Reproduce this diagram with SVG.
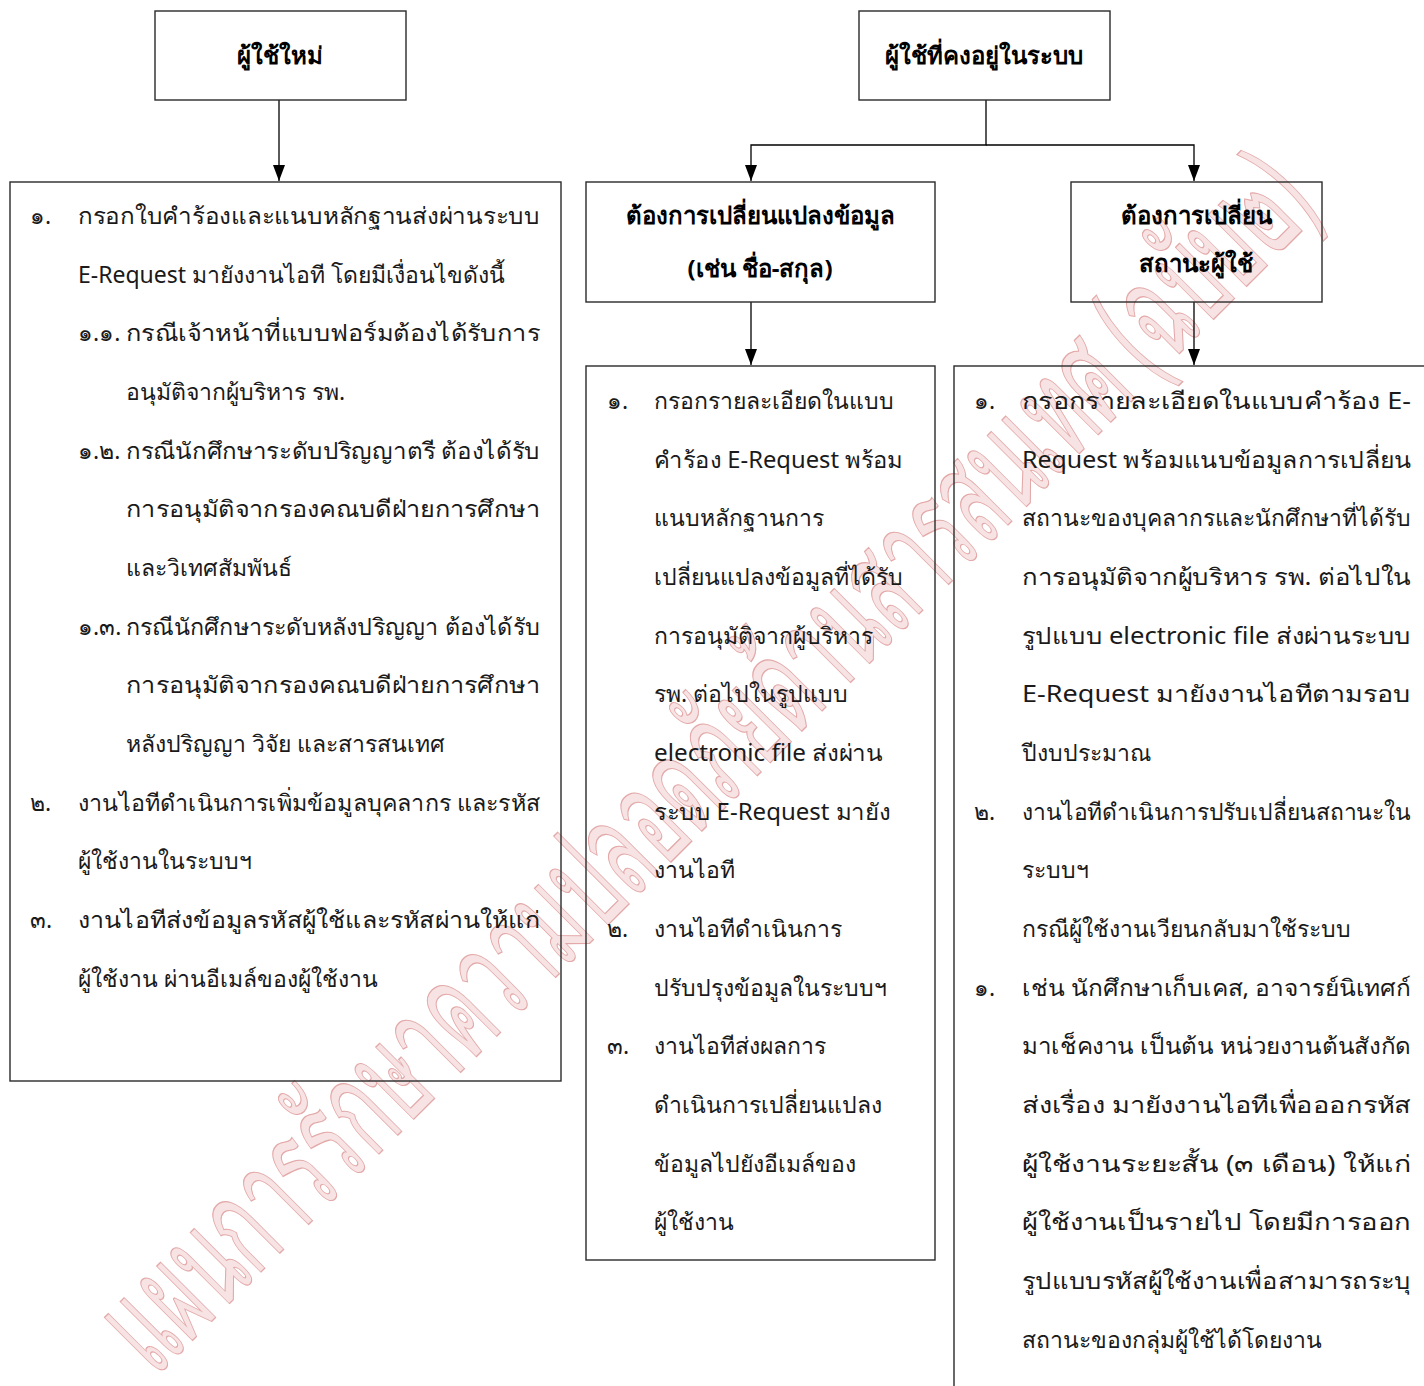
<svg xmlns="http://www.w3.org/2000/svg" width="1424" height="1386" viewBox="0 0 1424 1386">
<defs>
<marker id="ah" viewBox="0 0 16 12" refX="16" refY="6" markerWidth="16" markerHeight="12" markerUnits="userSpaceOnUse" orient="auto" preserveAspectRatio="none">
<path d="M0,0 L16,6 L0,12 z" fill="#000"/>
</marker>
<style>
.box{fill:none;stroke:#2a2a2a;stroke-width:1.4}
.hd{font-family:"Noto Sans",sans-serif;font-weight:bold;font-size:24px;fill:#000;text-anchor:middle}
.t{font-family:"Noto Sans",sans-serif;font-size:23px;fill:#1a1a1a}
.ln{fill:none;stroke:#000;stroke-width:1.3}
.wm{font-family:"Noto Sans",sans-serif;font-size:140px;fill:#f7e3e3;stroke:#e3a8a8;stroke-width:1.3}
</style>
</defs>
<rect width="1424" height="1386" fill="#fff"/>
<g id="watermark">
<text class="wm" transform="translate(155,1378) rotate(-45)" x="0" y="0" textLength="1650" lengthAdjust="spacingAndGlyphs">แผนการรักษาความปลอดภัยด้านสารสนเทศ (ฉบับ๒)</text>
</g>
<g id="connectors">
<path class="ln" d="M279,100 V181" marker-end="url(#ah)"/>
<path class="ln" d="M986,100 V145 H751 V181" marker-end="url(#ah)"/>
<path class="ln" d="M986,145 H1194 V181" marker-end="url(#ah)"/>
<path class="ln" d="M751,302 V365" marker-end="url(#ah)"/>
<path class="ln" d="M1194,302 V365" marker-end="url(#ah)"/>
</g>
<g id="n-new-user">
<rect class="box" x="155" y="11" width="251" height="89"/>
<text class="hd" x="280" y="64">ผู้ใช้ใหม่</text>
</g>
<g id="n-existing-user">
<rect class="box" x="859" y="11" width="251" height="89"/>
<text class="hd" x="984" y="64">ผู้ใช้ที่คงอยู่ในระบบ</text>
</g>
<g id="n-change-data">
<rect class="box" x="586" y="182" width="349" height="120"/>
<text class="hd" x="760" y="224">ต้องการเปลี่ยนแปลงข้อมูล</text>
<text class="hd" x="760" y="277">(เช่น ชื่อ-สกุล)</text>
</g>
<g id="n-change-status">
<rect class="box" x="1071" y="182" width="251" height="120"/>
<text class="hd" x="1196" y="224">ต้องการเปลี่ยน</text>
<text class="hd" x="1196" y="272">สถานะผู้ใช้</text>
</g>
<g id="n-new-steps">
<rect class="box" x="10" y="182" width="551" height="899"/>
<text class="t" x="30" y="224">๑.</text>
<text class="t" x="78" y="224" textLength="462" lengthAdjust="spacingAndGlyphs">กรอกใบคำร้องและแนบหลักฐานส่งผ่านระบบ</text>
<text class="t" x="78" y="283">E-Request มายังงานไอที โดยมีเงื่อนไขดังนี้</text>
<text class="t" x="78" y="341">๑.๑.</text>
<text class="t" x="126" y="341" textLength="414" lengthAdjust="spacingAndGlyphs">กรณีเจ้าหน้าที่แบบฟอร์มต้องได้รับการ</text>
<text class="t" x="126" y="400">อนุมัติจากผู้บริหาร รพ.</text>
<text class="t" x="78" y="459">๑.๒.</text>
<text class="t" x="126" y="459" textLength="414" lengthAdjust="spacingAndGlyphs">กรณีนักศึกษาระดับปริญญาตรี ต้องได้รับ</text>
<text class="t" x="126" y="517" textLength="414" lengthAdjust="spacingAndGlyphs">การอนุมัติจากรองคณบดีฝ่ายการศึกษา</text>
<text class="t" x="126" y="576">และวิเทศสัมพันธ์</text>
<text class="t" x="78" y="635">๑.๓.</text>
<text class="t" x="126" y="635" textLength="414" lengthAdjust="spacingAndGlyphs">กรณีนักศึกษาระดับหลังปริญญา ต้องได้รับ</text>
<text class="t" x="126" y="693" textLength="414" lengthAdjust="spacingAndGlyphs">การอนุมัติจากรองคณบดีฝ่ายการศึกษา</text>
<text class="t" x="126" y="752">หลังปริญญา วิจัย และสารสนเทศ</text>
<text class="t" x="30" y="811">๒.</text>
<text class="t" x="78" y="811" textLength="462" lengthAdjust="spacingAndGlyphs">งานไอทีดำเนินการเพิ่มข้อมูลบุคลากร และรหัส</text>
<text class="t" x="78" y="869">ผู้ใช้งานในระบบฯ</text>
<text class="t" x="30" y="928">๓.</text>
<text class="t" x="78" y="928" textLength="462" lengthAdjust="spacingAndGlyphs">งานไอทีส่งข้อมูลรหัสผู้ใช้และรหัสผ่านให้แก่</text>
<text class="t" x="78" y="987">ผู้ใช้งาน ผ่านอีเมล์ของผู้ใช้งาน</text>
</g>
<g id="n-change-data-steps">
<rect class="box" x="586" y="366" width="349" height="894"/>
<text class="t" x="607" y="409">๑.</text>
<text class="t" x="654" y="409">กรอกรายละเอียดในแบบ</text>
<text class="t" x="654" y="468" textLength="249" lengthAdjust="spacingAndGlyphs">คำร้อง E-Request พร้อม</text>
<text class="t" x="654" y="526">แนบหลักฐานการ</text>
<text class="t" x="654" y="585">เปลี่ยนแปลงข้อมูลที่ได้รับ</text>
<text class="t" x="654" y="644">การอนุมัติจากผู้บริหาร</text>
<text class="t" x="654" y="702">รพ. ต่อไปในรูปแบบ</text>
<text class="t" x="654" y="761" textLength="229" lengthAdjust="spacingAndGlyphs">electronic file ส่งผ่าน</text>
<text class="t" x="654" y="820" textLength="236" lengthAdjust="spacingAndGlyphs">ระบบ E-Request มายัง</text>
<text class="t" x="654" y="878">งานไอที</text>
<text class="t" x="607" y="937">๒.</text>
<text class="t" x="654" y="937">งานไอทีดำเนินการ</text>
<text class="t" x="654" y="996">ปรับปรุงข้อมูลในระบบฯ</text>
<text class="t" x="607" y="1054">๓.</text>
<text class="t" x="654" y="1054">งานไอทีส่งผลการ</text>
<text class="t" x="654" y="1113">ดำเนินการเปลี่ยนแปลง</text>
<text class="t" x="654" y="1172">ข้อมูลไปยังอีเมล์ของ</text>
<text class="t" x="654" y="1230">ผู้ใช้งาน</text>
</g>
<g id="n-change-status-steps">
<rect class="box" x="954" y="366" width="490" height="1040"/>
<text class="t" x="974" y="409">๑.</text>
<text class="t" x="1022" y="409" textLength="389" lengthAdjust="spacingAndGlyphs">กรอกรายละเอียดในแบบคำร้อง E-</text>
<text class="t" x="1022" y="468" textLength="389" lengthAdjust="spacingAndGlyphs">Request พร้อมแนบข้อมูลการเปลี่ยน</text>
<text class="t" x="1022" y="526" textLength="389" lengthAdjust="spacingAndGlyphs">สถานะของบุคลากรและนักศึกษาที่ได้รับ</text>
<text class="t" x="1022" y="585" textLength="389" lengthAdjust="spacingAndGlyphs">การอนุมัติจากผู้บริหาร รพ. ต่อไปใน</text>
<text class="t" x="1022" y="644" textLength="389" lengthAdjust="spacingAndGlyphs">รูปแบบ electronic file ส่งผ่านระบบ</text>
<text class="t" x="1022" y="702" textLength="389" lengthAdjust="spacingAndGlyphs">E-Request มายังงานไอทีตามรอบ</text>
<text class="t" x="1022" y="761">ปีงบประมาณ</text>
<text class="t" x="974" y="820">๒.</text>
<text class="t" x="1022" y="820" textLength="389" lengthAdjust="spacingAndGlyphs">งานไอทีดำเนินการปรับเปลี่ยนสถานะใน</text>
<text class="t" x="1022" y="878">ระบบฯ</text>
<text class="t" x="1022" y="937">กรณีผู้ใช้งานเวียนกลับมาใช้ระบบ</text>
<text class="t" x="974" y="996">๑.</text>
<text class="t" x="1022" y="996" textLength="389" lengthAdjust="spacingAndGlyphs">เช่น นักศึกษาเก็บเคส, อาจารย์นิเทศก์</text>
<text class="t" x="1022" y="1054" textLength="389" lengthAdjust="spacingAndGlyphs">มาเช็คงาน เป็นต้น หน่วยงานต้นสังกัด</text>
<text class="t" x="1022" y="1113" textLength="389" lengthAdjust="spacingAndGlyphs">ส่งเรื่อง มายังงานไอทีเพื่อออกรหัส</text>
<text class="t" x="1022" y="1172" textLength="389" lengthAdjust="spacingAndGlyphs">ผู้ใช้งานระยะสั้น (๓ เดือน) ให้แก่</text>
<text class="t" x="1022" y="1230" textLength="389" lengthAdjust="spacingAndGlyphs">ผู้ใช้งานเป็นรายไป โดยมีการออก</text>
<text class="t" x="1022" y="1289" textLength="389" lengthAdjust="spacingAndGlyphs">รูปแบบรหัสผู้ใช้งานเพื่อสามารถระบุ</text>
<text class="t" x="1022" y="1348">สถานะของกลุ่มผู้ใช้ได้โดยงาน</text>
</g>
</svg>
